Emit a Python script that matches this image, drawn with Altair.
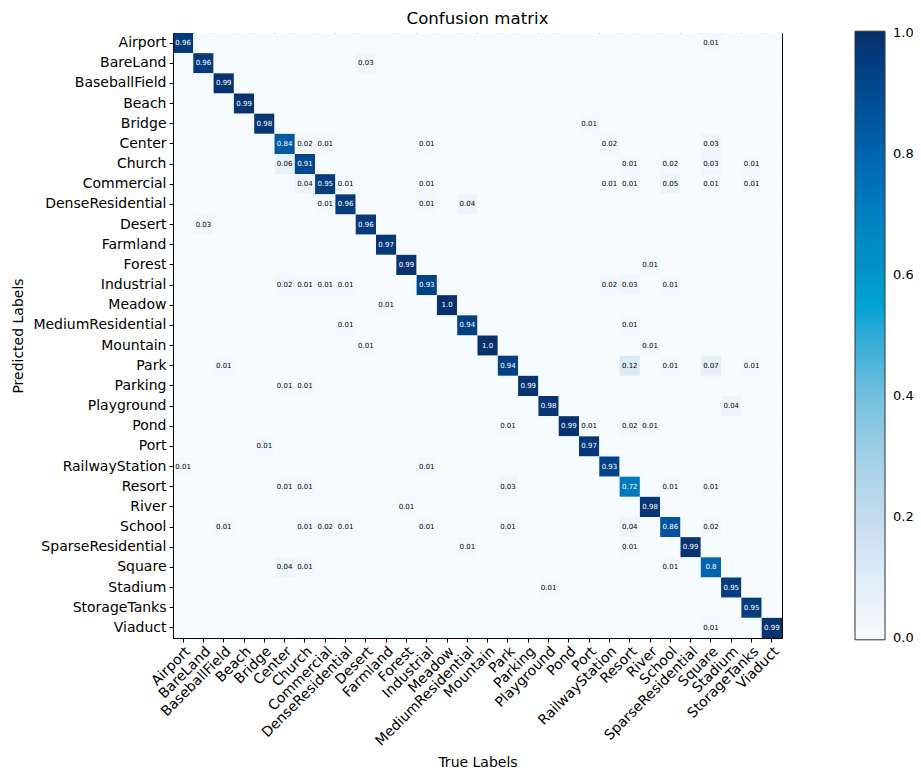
import altair as alt
import pandas as pd

labels = ["Airport", "BareLand", "BaseballField", "Beach", "Bridge", "Center", "Church",
          "Commercial", "DenseResidential", "Desert", "Farmland", "Forest", "Industrial",
          "Meadow", "MediumResidential", "Mountain", "Park", "Parking", "Playground", "Pond",
          "Port", "RailwayStation", "Resort", "River", "School", "SparseResidential",
          "Square", "Stadium", "StorageTanks", "Viaduct"]

# Non-zero entries of each predicted-label row: {true label: fraction}
row_airport = {"Airport": 0.96, "Square": 0.01}
row_bareland = {"BareLand": 0.96, "Desert": 0.03}
row_baseballfield = {"BaseballField": 0.99}
row_beach = {"Beach": 0.99}
row_bridge = {"Bridge": 0.98, "Port": 0.01}
row_center = {"Center": 0.84, "Church": 0.02, "Commercial": 0.01, "Industrial": 0.01,
              "RailwayStation": 0.02, "Square": 0.03}
row_church = {"Center": 0.06, "Church": 0.91, "Resort": 0.01, "School": 0.02,
              "Square": 0.03, "StorageTanks": 0.01}
row_commercial = {"Church": 0.04, "Commercial": 0.95, "DenseResidential": 0.01,
                  "Industrial": 0.01, "RailwayStation": 0.01, "Resort": 0.01,
                  "School": 0.05, "Square": 0.01, "StorageTanks": 0.01}
row_denseresidential = {"Commercial": 0.01, "DenseResidential": 0.96, "Industrial": 0.01,
                        "MediumResidential": 0.04}
row_desert = {"BareLand": 0.03, "Desert": 0.96}
row_farmland = {"Farmland": 0.97}
row_forest = {"Forest": 0.99, "River": 0.01}
row_industrial = {"Center": 0.02, "Church": 0.01, "Commercial": 0.01, "DenseResidential": 0.01,
                  "Industrial": 0.93, "RailwayStation": 0.02, "Resort": 0.03, "School": 0.01}
row_meadow = {"Farmland": 0.01, "Meadow": 1.0}
row_mediumresidential = {"DenseResidential": 0.01, "MediumResidential": 0.94, "Resort": 0.01}
row_mountain = {"Desert": 0.01, "Mountain": 1.0, "River": 0.01}
row_park = {"BaseballField": 0.01, "Park": 0.94, "Resort": 0.12, "School": 0.01,
            "Square": 0.07, "StorageTanks": 0.01}
row_parking = {"Center": 0.01, "Church": 0.01, "Parking": 0.99}
row_playground = {"Playground": 0.98, "Stadium": 0.04}
row_pond = {"Park": 0.01, "Pond": 0.99, "Port": 0.01, "Resort": 0.02, "River": 0.01}
row_port = {"Bridge": 0.01, "Port": 0.97}
row_railwaystation = {"Airport": 0.01, "Industrial": 0.01, "RailwayStation": 0.93}
row_resort = {"Center": 0.01, "Church": 0.01, "Park": 0.03, "Resort": 0.72, "School": 0.01,
              "Square": 0.01}
row_river = {"Forest": 0.01, "River": 0.98}
row_school = {"BaseballField": 0.01, "Church": 0.01, "Commercial": 0.02,
              "DenseResidential": 0.01, "Industrial": 0.01, "Park": 0.01, "Resort": 0.04,
              "School": 0.86, "Square": 0.02}
row_sparseresidential = {"MediumResidential": 0.01, "Resort": 0.01, "SparseResidential": 0.99}
row_square = {"Center": 0.04, "Church": 0.01, "School": 0.01, "Square": 0.8}
row_stadium = {"Playground": 0.01, "Stadium": 0.95}
row_storagetanks = {"StorageTanks": 0.95}
row_viaduct = {"Square": 0.01, "Viaduct": 0.99}

rows = [row_airport, row_bareland, row_baseballfield, row_beach, row_bridge, row_center,
        row_church, row_commercial, row_denseresidential, row_desert, row_farmland,
        row_forest, row_industrial, row_meadow, row_mediumresidential, row_mountain,
        row_park, row_parking, row_playground, row_pond, row_port, row_railwaystation,
        row_resort, row_river, row_school, row_sparseresidential, row_square, row_stadium,
        row_storagetanks, row_viaduct]

# colormap stops (ends nudged a hair outside 0..1 so the
# end labels of the colour bar stay centred on its ticks)
cmap_domain = [-0.003, 0.1, 0.2, 0.3, 0.4, 0.5, 0.55, 0.6, 0.7, 0.8, 0.9, 1.003]
cmap_range = ["#f7fbff", "#e0ecf8", "#c4dbee", "#a2cfe6", "#72bfdd", "#2faad6",
              "#00a4d4", "#0096c8", "#0080bf", "#0064ae", "#004a92", "#08306b"]
colorbar_ticks = [0, 0.2, 0.4, 0.6, 0.8, 1.0]

records = []
for pred, row in zip(labels, rows):
    for true in labels:
        v = row.get(true, 0.0)
        records.append({"pred": pred, "true": true, "value": v,
                        "label": str(v) if v != 0 else ""})
df = pd.DataFrame(records)

FONT = "DejaVu Sans"

base = alt.Chart(df).encode(
    x=alt.X("true:N", sort=labels, title="True Labels",
            scale=alt.Scale(paddingInner=0, paddingOuter=0),
            axis=alt.Axis(labelAngle=-45, labelAlign="right", labelBaseline="top",
                          labelFontSize=14, titleFontSize=14, titleFontWeight="normal",
                          titleY=124, titleBaseline="middle", tickSize=4, labelPadding=2,
                          domainColor="black", tickColor="black", labelColor="black",
                          titleColor="black", labelFont=FONT, titleFont=FONT,
                          labelOverlap=False)),
    y=alt.Y("pred:N", sort=labels, title="Predicted Labels",
            scale=alt.Scale(paddingInner=0, paddingOuter=0),
            axis=alt.Axis(labelFontSize=14, titleFontSize=14, titleFontWeight="normal",
                          titleX=-155, titleBaseline="middle", tickSize=4, labelPadding=3,
                          domainColor="black", tickColor="black", labelColor="black",
                          titleColor="black", labelFont=FONT, titleFont=FONT,
                          labelOverlap=False)),
)

rect = base.mark_rect().encode(
    color=alt.Color("value:Q",
                    scale=alt.Scale(domain=cmap_domain, range=cmap_range, interpolate="rgb"),
                    legend=alt.Legend(title=None, orient="none", legendX=682, legendY=-1.8,
                                      direction="vertical", gradientLength=608.6,
                                      gradientThickness=30, values=colorbar_ticks,
                                      format=".1f", labelFontSize=13, labelFont=FONT,
                                      labelColor="black", gradientStrokeColor="#333333",
                                      gradientStrokeWidth=1, labelOffset=8,
                                      labelOverlap=False))
)

text = base.mark_text(fontSize=7, font=FONT).encode(
    text="label:N",
    color=alt.condition(alt.datum.value > 0.5, alt.value("white"), alt.value("black")),
)

chart = (rect + text).properties(
    width=609, height=605,
    autosize=alt.AutoSizeParams(type="none"),
    padding={"left": 165, "top": 25, "right": 131, "bottom": 130},
    title=alt.TitleParams("Confusion matrix", fontSize=16.6, fontWeight="normal", font=FONT,
                          color="black", offset=4),
).configure_view(stroke="black", strokeWidth=1)

chart.save("out.html", embed_options={"renderer": "svg", "actions": False})
